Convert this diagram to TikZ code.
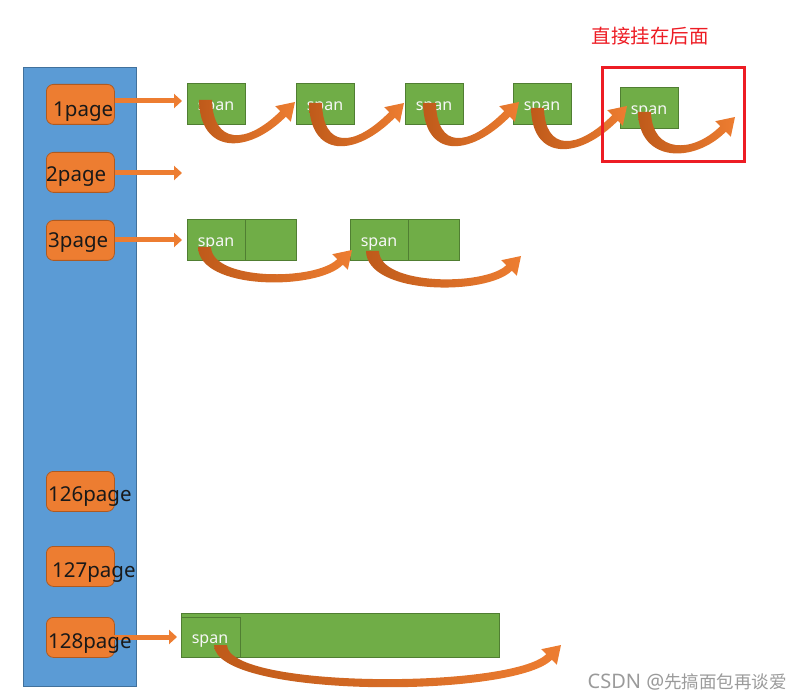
\documentclass[tikz,border=0pt]{standalone}
\usepackage{fontspec}
\setmainfont{Noto Sans}
\newfontfamily\cjk{Noto Sans CJK SC}
\usetikzlibrary{arrows.meta}
\definecolor{bluefill}{HTML}{5B9BD5}
\definecolor{blueline}{HTML}{41719C}
\definecolor{orfill}{HTML}{ED7D31}
\definecolor{orline}{HTML}{AE5A21}
\definecolor{ordark}{HTML}{BF5A1A}
\definecolor{grfill}{HTML}{70AD47}
\definecolor{grline}{HTML}{507E32}
\definecolor{redc}{HTML}{ED1C24}
\definecolor{wmgray}{HTML}{9A9A9A}
\tikzset{
  pagebox/.style={draw=orline, fill=orfill, rounded corners=7pt, line width=0.8pt,
    minimum width=68pt, minimum height=40pt, inner sep=0pt, anchor=north west},
  pagelabel/.style={font=\fontsize{20.5}{20.5}\selectfont, text=black!90, inner sep=0pt, anchor=base west},
  spanbox/.style={draw=grline, fill=grfill, line width=0.7pt, inner sep=0pt, anchor=north west},
  spanlabel/.style={font=\fontsize{16}{16}\selectfont, text=white!94!gray, inner sep=0pt, anchor=base},
  pagearrow/.style={draw=orfill, line width=5pt, -{Triangle[length=8pt,width=14pt]}},
  curvearrow/.style={left color=ordark, right color=orfill},
}
\newcommand\carrow[5]{%
  \pgfmathsetmacro\cAx{#1}\pgfmathsetmacro\cAy{#2}%
  \pgfmathsetmacro\cTx{#3}\pgfmathsetmacro\cTy{#4}%
  \pgfmathsetmacro\cYb{#5}%
  \pgfmathsetmacro\cLx{\cTx-9.2}\pgfmathsetmacro\cLy{\cTy+14.8}%
  \pgfmathsetmacro\cUx{\cTx-14.8}\pgfmathsetmacro\cUy{\cTy+9.2}%
  \pgfmathsetmacro\cOx{\cTx-4.2}\pgfmathsetmacro\cOy{\cTy+19.8}%
  \pgfmathsetmacro\cIx{\cTx-19.8}\pgfmathsetmacro\cIy{\cTy+4.2}%
  \pgfmathsetmacro\cYc{(\cYb-0.125*(\cAy+\cLy))/0.75}%
  \pgfmathsetmacro\cYd{(\cYb-8-0.125*(\cAy+\cUy))/0.75}%
  \pgfmathsetmacro\cCa{\cLx-(\cYc-\cLy)}%
  \pgfmathsetmacro\cCb{\cUx-(\cYd-\cUy)}%
  \shade[curvearrow] (\cAx,\cAy) .. controls (\cAx+1,\cYc) and (\cCa,\cYc) .. (\cLx,\cLy)
    -- (\cOx,\cOy) -- (\cTx,\cTy) -- (\cIx,\cIy) -- (\cUx,\cUy)
    .. controls (\cCb,\cYd) and (\cAx+14,\cYd) .. (\cAx+13,\cAy) -- cycle;
}
\begin{document}
\begin{tikzpicture}[x=1pt,y=-1pt]
\useasboundingbox (0,0) rectangle (802,700);
% central list
\node[draw=blueline, fill=bluefill, line width=0.8pt, minimum width=113pt, minimum height=619pt,
  inner sep=0pt, anchor=north west] (list) at (23,67) {};
% page boxes
\node[pagebox] (p1) at (46,84) {};
\node[pagebox] (p2) at (46,152) {};
\node[pagebox] (p3) at (46,220) {};
\node[pagebox] (p126) at (46,471) {};
\node[pagebox] (p127) at (46,546) {};
\node[pagebox] (p128) at (46,617) {};
% span boxes
\node[spanbox, minimum width=58pt, minimum height=41pt] (s11) at (187,83) {};
\node[spanbox, minimum width=58pt, minimum height=41pt] (s12) at (296,83) {};
\node[spanbox, minimum width=58pt, minimum height=41pt] (s13) at (405,83) {};
\node[spanbox, minimum width=58pt, minimum height=41pt] (s14) at (513,83) {};
\node[spanbox, minimum width=58pt, minimum height=41pt] (s15) at (620,87) {};
\node[spanbox, minimum width=58pt, minimum height=41pt] (s31) at (187,219) {};
\node[spanbox, minimum width=51pt, minimum height=41pt] (s31b) at (245,219) {};
\node[spanbox, minimum width=58pt, minimum height=41pt] (s32) at (350,219) {};
\node[spanbox, minimum width=51pt, minimum height=41pt] (s32b) at (408,219) {};
\node[spanbox, minimum width=318pt, minimum height=44pt] (big) at (181,613) {};
\node[spanbox, minimum width=59pt, minimum height=40pt] (s128) at (181,617) {};
% straight arrows
\coordinate (e1) at (182,101);
\coordinate (e2) at (182,173);
\coordinate (e3) at (182,240);
\coordinate (e128) at (177,637);
\coordinate (b128) at (109,637);
\draw[pagearrow] (p1.east |- e1) -- (e1);
\draw[pagearrow] (p2.east |- e2) -- (e2);
\draw[pagearrow] (p3.east |- e3) -- (e3);
\draw[pagearrow] (b128) -- (e128);
% page labels
\node[pagelabel] (l1) at (53,117) {1page};
\node[pagelabel] (l2) at (46,182) {2page};
\node[pagelabel] (l3) at (48,248) {3page};
\node[pagelabel] (l126) at (48,501) {126page};
\node[pagelabel] (l127) at (52,577) {127page};
\node[pagelabel] (l128) at (48,648) {128page};
% span labels
\node[spanlabel] (t11) at (216,111) {span};
\node[spanlabel] (t12) at (325,111) {span};
\node[spanlabel] (t13) at (434,111) {span};
\node[spanlabel] (t14) at (542,111) {span};
\node[spanlabel] (t15) at (649,115) {span};
\node[spanlabel] (t31) at (216,247) {span};
\node[spanlabel] (t32) at (379,247) {span};
\node[spanlabel] (t128) at (210,643) {span};
% curved arrows
\carrow{199}{100}{295}{102}{143}
\carrow{309}{103}{404}{103}{146}
\carrow{423}{103}{519}{102}{146}
\carrow{531}{108}{627}{106}{149}
\carrow{638}{112}{735}{117}{153}
\carrow{198}{247}{352}{250}{282}
\carrow{366}{251}{521}{256}{287}
\carrow{214}{645}{561}{645}{687}
% highlight
\node[draw=redc, line width=2.8pt, minimum width=142pt, minimum height=94pt, inner sep=0pt,
  anchor=north west] (hl) at (601,66) {};
\node[text=redc, font=\cjk\fontsize{19.5}{19.5}\selectfont, inner sep=0pt] (note) at (650,36) {直接挂在后面};
% watermark
\node[text=wmgray, inner sep=0pt, anchor=base east] (wm) at (787,688)
  {\fontsize{20}{20}\selectfont CSDN @\cjk\fontsize{17.5}{17.5}\selectfont 先搞面包再谈爱};
\end{tikzpicture}
\end{document}
